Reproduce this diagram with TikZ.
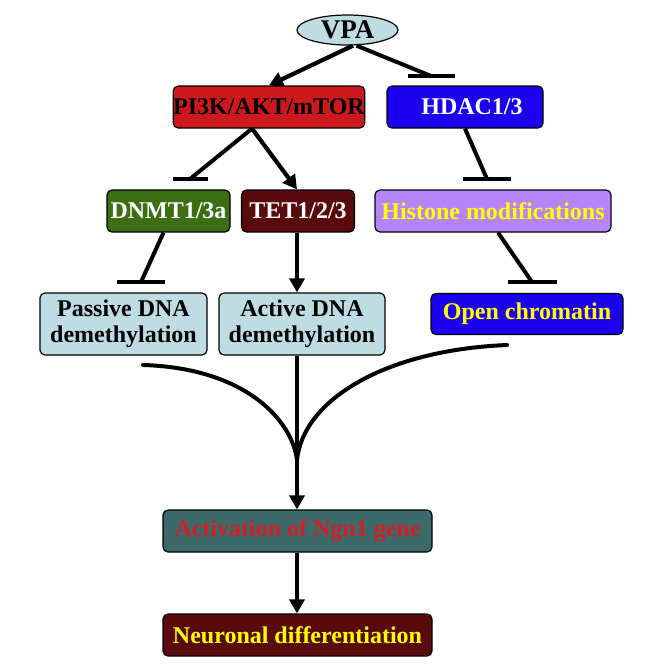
\documentclass[tikz,border=0pt]{standalone}
\usepackage{fontspec}
\setmainfont{Liberation Serif}
\usetikzlibrary{arrows.meta,positioning,shapes.geometric}
\definecolor{VpaBlue}{RGB}{190,220,225}
\definecolor{PikRed}{RGB}{205,25,30}
\definecolor{HdacBlue}{RGB}{28,0,240}
\definecolor{DnmtGreen}{RGB}{60,110,20}
\definecolor{TetBrown}{RGB}{88,10,12}
\definecolor{HistLilac}{RGB}{182,132,250}
\definecolor{NgnTeal}{RGB}{60,106,106}
\definecolor{NgnRed}{RGB}{210,30,40}
\definecolor{TxtYellow}{RGB}{255,255,0}

\tikzset{
  box/.style={draw,rounded corners=5pt,line width=1.2pt,inner sep=0pt,
    align=center,font=\fontsize{24}{26}\selectfont\bfseries},
  arr/.style={line width=4.2pt,-{Triangle[length=14pt,width=15pt]}},
  inh/.style={line width=4pt},
  tbar/.style={line width=4.4pt}
}

\begin{document}
\begin{tikzpicture}[x=1pt,y=-1pt]
  \useasboundingbox (0,0) rectangle (664,664);
  % nodes
  \node[ellipse,draw,line width=1.2pt,fill=VpaBlue,minimum width=101,
    minimum height=30,inner sep=0pt,font=\fontsize{27}{29}\selectfont\bfseries]
    (vpa) at (347.5,30) {VPA};
  \node[box,fill=PikRed,minimum width=190,minimum height=42] (pik) at (269,107) {PI3K/AKT/mTOR};
  \node[box,fill=HdacBlue,text=white,minimum width=156,minimum height=42] (hdac) at (465,107) {\hspace*{14pt}HDAC1/3};
  \node[box,fill=DnmtGreen,text=white,minimum width=123,minimum height=42] (dnmt) at (168.5,211) {DNMT1/3a};
  \node[box,fill=TetBrown,text=white,minimum width=113,minimum height=42] (tet) at (298,211) {TET1/2/3};
  \node[box,fill=HistLilac,text=TxtYellow,minimum width=236,minimum height=42] (hist) at (493,211) {Histone modifications};
  \node[box,fill=VpaBlue,minimum width=167,minimum height=62] (passive) at (123.5,324) {Passive DNA\\demethylation};
  \node[box,fill=VpaBlue,minimum width=166,minimum height=62] (active) at (302,324) {Active DNA\\demethylation};
  \node[box,fill=HdacBlue,text=TxtYellow,minimum width=192,minimum height=41] (open) at (527,314) {Open chromatin};
  \node[box,fill=NgnTeal,text=NgnRed,minimum width=269,minimum height=42] (ngn) at (297.5,531) {Activation of Ngn1 gene};
  \node[box,fill=TetBrown,text=TxtYellow,minimum width=269,minimum height=42] (neuro) at (297.5,635) {Neuronal differentiation};

  % activating arrows
  \coordinate (merge) at (297,460);
  \draw[arr] ([xshift=5.5]vpa.south) -- (pik.north);
  \draw[arr] ([xshift=-17]pik.south) -- (tet.north -| merge);
  \draw[arr] (tet.south -| merge) -- (active.north -| merge);

  % inhibiting lines
  \coordinate (bHdac) at (431,76);
  \coordinate (bDnmt) at (190,179);
  \coordinate (bPass) at (141,282);
  \coordinate (bHist) at (487,179);
  \coordinate (bOpen) at (532,282);
  \draw[inh] ([xshift=9]vpa.south) -- (bHdac);
  \draw[tbar] ([xshift=-23]bHdac) -- ([xshift=24]bHdac);
  \draw[inh] ([xshift=-17]pik.south) -- (bDnmt);
  \draw[tbar] ([xshift=-17]bDnmt) -- ([xshift=18]bDnmt);
  \draw[inh] ([xshift=-5]dnmt.south) -- (bPass);
  \draw[tbar] ([xshift=-24]bPass) -- ([xshift=24]bPass);
  \draw[inh] (hdac.south) -- (bHist);
  \draw[tbar] ([xshift=-24]bHist) -- ([xshift=24]bHist);
  \draw[inh] ([xshift=5]hist.south) -- (bOpen);
  \draw[tbar] ([xshift=-24]bOpen) -- ([xshift=25]bOpen);

  % merging curves
  \coordinate (cLeft) at (143,365);
  \coordinate (cRight) at (507,345);
  \draw[inh,line cap=round] (cLeft) .. controls (245,368) and (292,420) .. (merge);
  \draw[inh,line cap=round] (cRight) .. controls (385,350) and (303,400) .. (merge);
  \draw[arr] (active.south -| merge) -- (ngn.north -| merge);
  \draw[arr] (ngn.south -| merge) -- (neuro.north -| merge);
\end{tikzpicture}
\end{document}
